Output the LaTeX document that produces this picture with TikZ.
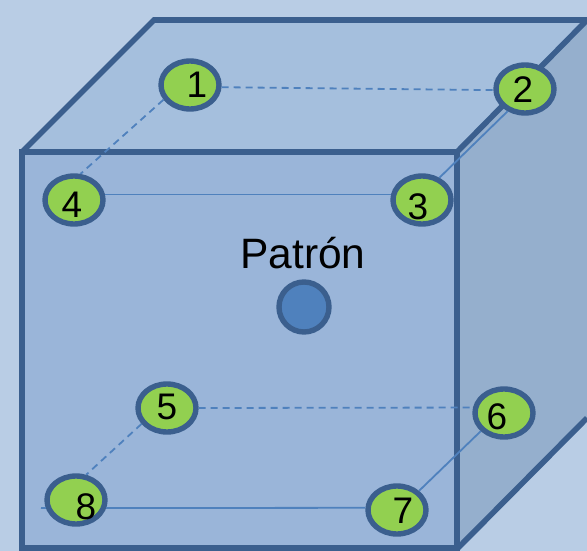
\documentclass[tikz,border=0pt]{standalone}
\usepackage{fontspec}
\setmainfont{Liberation Sans}
\usetikzlibrary{shapes.geometric}
\definecolor{bgc}{HTML}{B9CDE5}
\definecolor{topc}{HTML}{A5BFDD}
\definecolor{frontc}{HTML}{9AB5D9}
\definecolor{sidec}{HTML}{95AFCD}
\definecolor{edgec}{HTML}{3B5F8E}
\definecolor{greenc}{HTML}{92D050}
\definecolor{linec}{HTML}{4F81BD}
\tikzset{
  x=1pt,y=-1pt,
  edge/.style={draw=edgec,line width=5.6pt,line join=miter},
  pt/.style={ellipse,draw=edgec,fill=greenc,line width=5.4pt,minimum width=58pt,minimum height=48pt,inner sep=0pt},
  num/.style={font=\fontsize{37pt}{37pt}\selectfont,text=black,inner sep=0pt},
  solidlink/.style={draw=linec,line width=1.8pt},
  dashlink/.style={draw=linec,line width=1.8pt,dash pattern=on 7pt off 5pt},
}
\begin{document}
\begin{tikzpicture}
\useasboundingbox (0,0) rectangle (587,551);
\fill[bgc] (0,0) rectangle (587,551);
\path[fill=topc] (22,152) -- (154,20) -- (587,20) -- (457,152) -- cycle;
\path[fill=sidec] (457,152) -- (587,20) -- (587,418) -- (457,549) -- cycle;
\path[fill=frontc] (22,152) rectangle (457,548);
\path[edge] (22,152) -- (154,20) -- (587,20) -- (457,152);
\path[edge] (457,549) -- (587,418);
\path[edge] (22,152) rectangle (457,548);
\node[circle,draw=edgec,fill=linec,line width=5.4pt,minimum size=50pt,inner sep=0pt] (patron) at (304,307) {};
\node[font=\fontsize{42.5pt}{42.5pt}\selectfont,text=black,inner sep=0pt] (ptext) at (303,253) {Patrón};
\node[pt] (n1) at (190,85) {};
\node[pt] (n2) at (525,89) {};
\node[pt] (n3) at (422,200) {};
\node[pt] (n4) at (74,200) {};
\node[pt] (n5) at (167,408) {};
\node[pt] (n6) at (504,413) {};
\node[pt] (n7) at (397,510) {};
\node[pt] (n8) at (76,500) {};
\node[num] (d1) at (197,85) {1};
\node[num] (d2) at (523,90) {2};
\node[num] (d3) at (418,207) {3};
\node[num] (d4) at (72,205) {4};
\node[num] (d5) at (167,407) {5};
\node[num] (d6) at (497,417) {6};
\node[num] (d7) at (403,511) {7};
\node[num] (d8) at (86,507) {8};
\coordinate (tail) at (41,508);
\path[dashlink] (n1.209) -- (n4.76);
\path[dashlink] (n1.-4) -- (n2.182);
\path[dashlink] (n5.212) -- (n8.68);
\path[dashlink] (n5.0) -- (n6.170);
\path[solidlink] (n4.10) -- (n3.170);
\path[solidlink] (n2.232) -- (n3.52);
\path[solidlink] (n6.218) -- (n7.41);
\path[solidlink] (n8.-15) -- (n7.176);
\path[solidlink] (tail) -- (n8.195);
\end{tikzpicture}
\end{document}
